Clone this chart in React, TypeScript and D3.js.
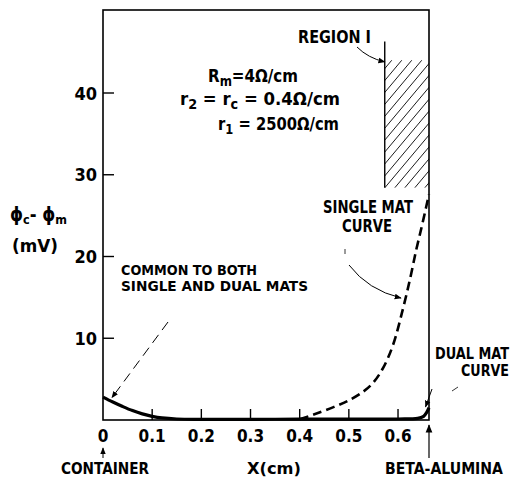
import React from "react";
import * as d3 from "d3";

// y ticks (mV) and x ticks (cm)
const yTicks = [10, 20, 30, 40];
const xTicks = [0, 0.1, 0.2, 0.3, 0.4, 0.5, 0.6];
const xTickLabels = ["0", "0.1", "0.2", "0.3", "0.4", "0.5", "0.6"];

// curve common to both mats, then the dual mat tail near beta-alumina
const commonX = [0, 0.02, 0.04, 0.06, 0.08, 0.1, 0.12, 0.15, 0.2, 0.3, 0.4, 0.5, 0.6, 0.64, 0.652, 0.658, 0.663];
const commonY = [2.8, 2.2, 1.65, 1.15, 0.75, 0.45, 0.25, 0.12, 0.08, 0.08, 0.1, 0.1, 0.12, 0.2, 0.45, 0.9, 1.5];

// single mat curve (dashed)
const singleX = [0.4, 0.43, 0.47, 0.5, 0.53, 0.55, 0.57, 0.59, 0.61, 0.625, 0.637, 0.648, 0.657, 0.663];
const singleY = [0.1, 0.7, 1.6, 2.4, 3.5, 4.6, 6.4, 9.2, 13.6, 17.4, 20.8, 23.6, 26, 27.6];

// region I box
const regionX = [0.573, 0.663];
const regionY = [28.4, 44];

const W = 514, H = 478;
const X_MAX = 0.663;

export default function App() {
  const x = d3.scaleLinear().domain([0, X_MAX]).range([103, 429]);
  const y = d3.scaleLinear().domain([0, 40]).range([420, 93]);
  const yTop = y.invert(10);

  const line = d3.line<[number, number]>()
    .x(d => x(d[0]))
    .y(d => y(d[1]))
    .curve(d3.curveCatmullRom.alpha(0.5));

  const common = line(commonX.map((v, i) => [v, commonY[i]]));
  const single = line(singleX.map((v, i) => [v, singleY[i]]));

  const rx0 = x(regionX[0]), rx1 = x(regionX[1]);
  const ry0 = y(regionY[1]), ry1 = y(regionY[0]);
  const hatch = d3.range(rx0 - 140, rx1 + 10, 10);

  const font = "'DejaVu Sans Condensed', 'DejaVu Sans', sans-serif";

  return (
    <svg width={W} height={H} style={{ position: "absolute", left: 0, top: 0, background: "#fff" }}
      fontFamily={font} fontWeight="bold" fill="#000">
      <defs>
        <marker id="ah" viewBox="0 0 10 10" refX="9" refY="5" markerWidth="7" markerHeight="7" orient="auto">
          <path d="M0,1 L10,5 L0,9 Z" fill="#000" />
        </marker>
        <clipPath id="rc">
          <rect x={rx0} y={ry0} width={rx1 - rx0} height={ry1 - ry0} />
        </clipPath>
      </defs>

      {/* frame */}
      <rect x={x(0)} y={y(yTop)} width={x(X_MAX) - x(0)} height={y(0) - y(yTop)}
        fill="none" stroke="#000" strokeWidth={1.6} />

      {/* y ticks */}
      {yTicks.map(t => (
        <g key={t}>
          <line x1={x(0)} x2={x(0) + 11} y1={y(t)} y2={y(t)} stroke="#000" strokeWidth={1.4} />
          <text x={x(0) - 6} y={y(t) + 6.5} textAnchor="end" fontSize={18}>{t}</text>
        </g>
      ))}

      {/* x ticks */}
      {xTicks.map((t, i) => (
        <g key={t}>
          {i > 0 && <line x1={x(t)} x2={x(t)} y1={y(0)} y2={y(0) - 11} stroke="#000" strokeWidth={1.4} />}
          <text x={x(t)} y={442} textAnchor="middle" fontSize={17}>{xTickLabels[i]}</text>
        </g>
      ))}

      {/* region I hatch */}
      <g clipPath="url(#rc)">
        {hatch.map(h => (
          <line key={h} x1={h} y1={ry1} x2={h + 130} y2={ry1 - 155} stroke="#000" strokeWidth={0.9} />
        ))}
      </g>
      <line x1={rx0} x2={rx0} y1={y(46.3)} y2={ry1} stroke="#000" strokeWidth={1.4} />
      <text x={298} y={43} fontSize={18} textLength={73} lengthAdjust="spacingAndGlyphs">REGION I</text>
      <path d={`M357,47 Q368,58 ${rx0},${y(43.8)}`} fill="none" stroke="#000" strokeWidth={1} markerEnd="url(#ah)" />

      {/* parameters */}
      <text x={208} y={82} fontSize={18} textLength={90} lengthAdjust="spacingAndGlyphs">
        R<tspan fontSize={14} dy={4}>m</tspan><tspan dy={-4}>=4Ω/cm</tspan>
      </text>
      <text x={180} y={105} fontSize={18} textLength={160} lengthAdjust="spacingAndGlyphs">
        r<tspan fontSize={14} dy={4}>2</tspan><tspan dy={-4}> = r</tspan><tspan fontSize={14} dy={4}>c</tspan><tspan dy={-4}> = 0.4Ω/cm</tspan>
      </text>
      <text x={218} y={130} fontSize={18} textLength={121} lengthAdjust="spacingAndGlyphs">
        r<tspan fontSize={14} dy={4}>1</tspan><tspan dy={-4}> = 2500Ω/cm</tspan>
      </text>

      {/* curves */}
      <path d={single ?? ""} fill="none" stroke="#000" strokeWidth={2.6} strokeDasharray="9,5" />
      <path d={common ?? ""} fill="none" stroke="#000" strokeWidth={3.2} />

      {/* single mat label */}
      <text x={368} y={213} textAnchor="middle" fontSize={17} textLength={90} lengthAdjust="spacingAndGlyphs">SINGLE MAT</text>
      <text x={367} y={232} textAnchor="middle" fontSize={17} textLength={50} lengthAdjust="spacingAndGlyphs">CURVE</text>
      <line x1={345} x2={345} y1={249} y2={254} stroke="#000" strokeWidth={0.8} />
      <path d="M349,265 Q368,290 401,298" fill="none" stroke="#000" strokeWidth={1} markerEnd="url(#ah)" />

      {/* common label */}
      <text x={121} y={275} fontSize={14} textLength={136} lengthAdjust="spacingAndGlyphs">COMMON TO BOTH</text>
      <text x={121} y={291} fontSize={14} textLength={187} lengthAdjust="spacingAndGlyphs">SINGLE AND DUAL MATS</text>
      <path d={`M168,322 L${x(0.012) + 3},${y(2.6) - 1}`} fill="none" stroke="#000" strokeWidth={1}
        strokeDasharray="10,6" markerEnd="url(#ah)" />

      {/* dual mat label */}
      <text x={509} y={359} textAnchor="end" fontSize={15} textLength={74} lengthAdjust="spacingAndGlyphs">DUAL MAT</text>
      <text x={509} y={376} textAnchor="end" fontSize={15} textLength={48} lengthAdjust="spacingAndGlyphs">CURVE</text>
      <line x1={452} x2={458} y1={391} y2={387} stroke="#000" strokeWidth={0.8} />
      <path d={`M432,389 L${x(0.658) - 1},${y(1.6)}`} fill="none" stroke="#000" strokeWidth={1} markerEnd="url(#ah)" />

      {/* y axis label */}
      <text x={10} y={221} fontSize={19} textLength={57} lengthAdjust="spacingAndGlyphs">
        ϕ<tspan fontSize={13} dy={3}>c</tspan><tspan dy={-3}>- ϕ</tspan><tspan fontSize={13} dy={3}>m</tspan>
      </text>
      <text x={12} y={252} fontSize={17} textLength={46} lengthAdjust="spacingAndGlyphs">(mV)</text>

      {/* bottom annotations */}
      <line x1={x(0)} x2={x(0)} y1={458} y2={448} stroke="#000" strokeWidth={1} markerEnd="url(#ah)" />
      <text x={105} y={474} textAnchor="middle" fontSize={16} textLength={88} lengthAdjust="spacingAndGlyphs">CONTAINER</text>
      <text x={274} y={474} textAnchor="middle" fontSize={16} textLength={54} lengthAdjust="spacingAndGlyphs">X(cm)</text>
      <line x1={x(X_MAX)} x2={x(X_MAX)} y1={458} y2={425} stroke="#000" strokeWidth={1.2} markerEnd="url(#ah)" />
      <text x={444} y={474} textAnchor="middle" fontSize={16} textLength={118} lengthAdjust="spacingAndGlyphs">BETA-ALUMINA</text>
    </svg>
  );
}
